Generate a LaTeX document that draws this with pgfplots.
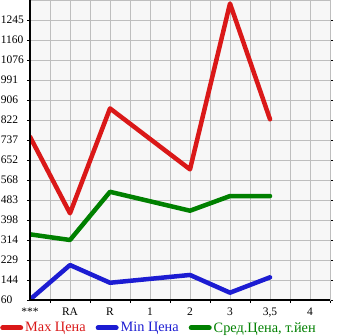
\documentclass[border=0pt]{standalone}
\usepackage{pgfplots}
\pgfplotsset{compat=1.18}
\usepackage{fontspec}
\setmainfont{Liberation Serif}
\definecolor{cred}{RGB}{218,24,24}
\definecolor{cblue}{RGB}{28,28,210}
\definecolor{cgreen}{RGB}{0,128,0}
\definecolor{cgrid}{RGB}{190,190,190}
\definecolor{cbg}{RGB}{247,247,247}
\begin{document}
\begin{tikzpicture}[x=1pt,y=1pt]
\begin{axis}[
  at={(0,0)}, anchor=south west,
  scale only axis, width=300pt, height=300pt,
  xmin=0, xmax=7.5, ymin=60, ymax=1330,
  axis background/.style={fill=cbg},
  axis line style={draw=cgrid, line width=0.8pt},
  xtick={0,...,7},
  xticklabels={***,RA,R,1,2,3,{3,5},4},
  minor xtick={0.5,1.5,...,7.5},
  ytick={60,144.667,229.333,314,398.667,483.333,568,652.667,737.333,822,906.667,991.333,1076,1160.667,1245.333},
  yticklabels={60,144,229,314,398,483,568,652,737,822,906,991,1076,1160,1245},
  extra y ticks={1330}, extra y tick labels={}, extra y tick style={major tick length=0pt},
  grid=both,
  major grid style={draw=cgrid, line width=0.8pt},
  minor grid style={draw=cgrid, line width=0.8pt},
  tick align=outside,
  major x tick style={draw=none},
  minor x tick style={draw=black, line width=0.8pt},
  minor tick length=3pt,
  major tick length=3pt,
  ytick style={draw=black, line width=0.8pt},
  /pgf/number format/assume math mode=true,
  tick label style={font=\fontsize{11.5}{12}\selectfont},
  yticklabel style={text width=26pt, align=left, inner sep=0pt},
  xticklabel style={inner sep=1pt, yshift=-3.5pt},
  legend columns=3,
  legend style={at={(-0.1,-0.093)}, anchor=west, draw=none, fill=none,
    font=\fontsize{14.3}{16}\selectfont, inner sep=0pt,
    /tikz/every even column/.append style={column sep=8pt}},
  legend image code/.code={\draw[#1, line width=5pt, line cap=round] (2.5pt,0pt) -- (20.5pt,0pt);},
  every axis plot/.append style={line width=4.5pt, line cap=round, line join=round},
  after end axis/.code={\draw[black, line width=1.2pt] (rel axis cs:0,1) -- (rel axis cs:0,0) -- (rel axis cs:1,0);},
]
\addplot[cred, mark=none] coordinates {(0,751) (1,427) (2,871) (4,613) (5,1315) (6,825)};
\addlegendentry{\textcolor{cred}{Max Цена}}
\addplot[cblue, mark=none] coordinates {(0,62) (1,208) (2,133) (4,166) (5,91) (6,156)};
\addlegendentry{\textcolor{cblue}{Min Цена}}
\addplot[cgreen, mark=none] coordinates {(0,338) (1,314) (2,518) (4,438) (5,500) (6,500)};
\addlegendentry{\textcolor{cgreen}{Сред.Цена, т.йен}}
\end{axis}
\pgfresetboundingbox
\path[use as bounding box] (-30,-35) rectangle (315,300);
\end{tikzpicture}
\end{document}
